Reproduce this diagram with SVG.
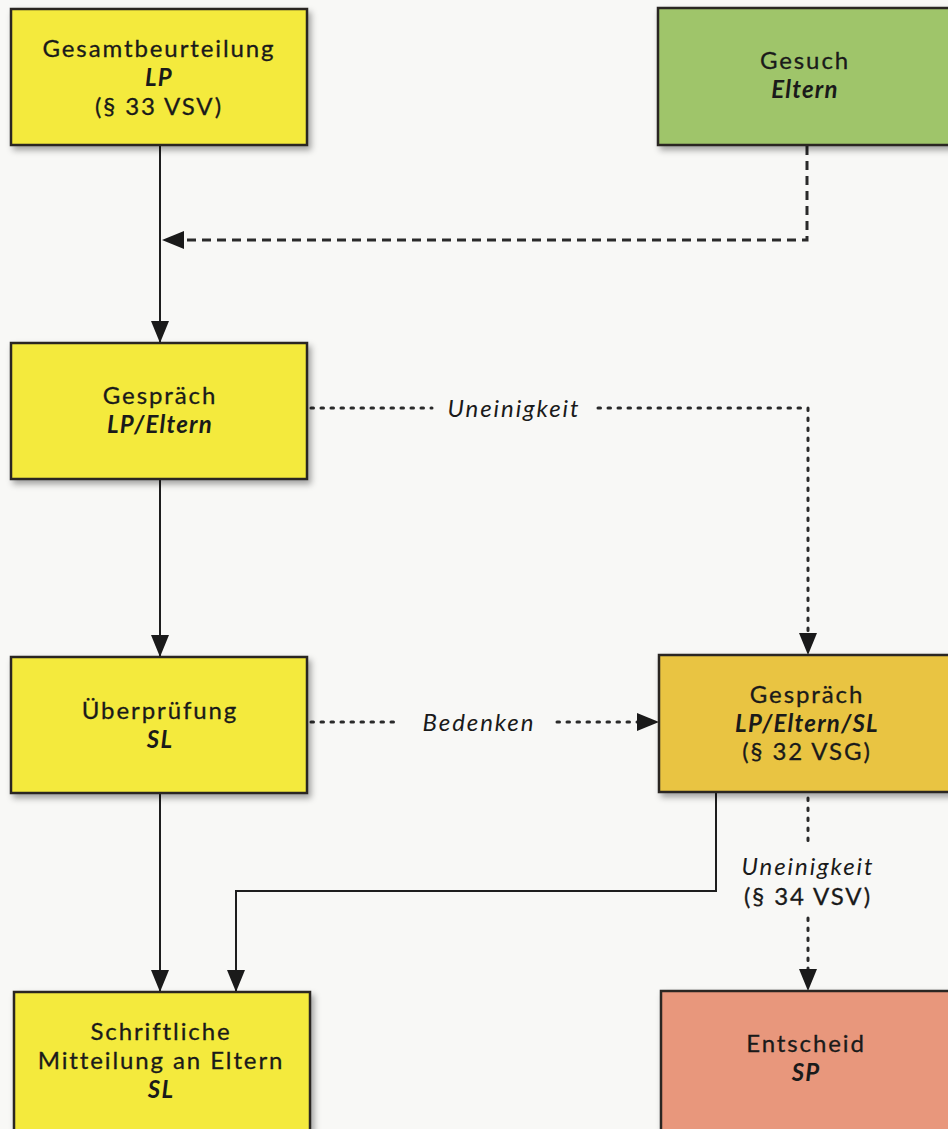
<svg xmlns="http://www.w3.org/2000/svg" width="948" height="1129" viewBox="0 0 948 1129">
<defs>
<filter id="sh" x="-10%" y="-10%" width="130%" height="130%">
<feDropShadow dx="3" dy="4" stdDeviation="3" flood-color="#000" flood-opacity="0.35"/>
</filter>
<marker id="ah" markerWidth="22" markerHeight="18" refX="22" refY="9" orient="auto" markerUnits="userSpaceOnUse">
<path d="M0,0 L22,9 L0,18 Z" fill="#1a1a1a"/>
</marker>
</defs>
<style>
.box{stroke:#2a2522;stroke-width:2.5;filter:url(#sh)}
.y{fill:#f4ea3c}
.g{fill:#9fc56b}
.o{fill:#e9c443}
.r{fill:#e8977c}
text{font-family:Lato,"Open Sans","Noto Sans",sans-serif;font-size:24px;letter-spacing:1.9px;fill:#1a1a1a;stroke:#1a1a1a;stroke-width:0.3px;text-anchor:middle}
.b{font-weight:bold;font-style:italic;letter-spacing:1.2px;stroke-width:0}
.i{font-style:italic;stroke-width:0}
.solid{fill:none;stroke:#1e1e1e;stroke-width:2}
.dash{fill:none;stroke:#2a2a2a;stroke-width:3;stroke-dasharray:9 6}
.dot{fill:none;stroke:#2a2a2a;stroke-width:3;stroke-dasharray:2.5 7.5;stroke-linecap:round}
</style>
<rect width="948" height="1129" fill="#f8f8f6"/>
<g id="connectors">
<path class="solid" d="M160,146 V343" marker-end="url(#ah)"/>
<path class="dash" d="M807,146 V240 H175"/>
<path d="M162,240 L184,231 L184,249 Z" fill="#1a1a1a"/>
<path class="dot" d="M311,408 H432 M598,408 H808 V634"/>
<path d="M799,633 L808,655 L817,633 Z" fill="#1a1a1a"/>
<path class="solid" d="M160,480 V657" marker-end="url(#ah)"/>
<path class="dot" d="M311,722 H400 M557,722 H638"/>
<path d="M637,713 L659,722 L637,731 Z" fill="#1a1a1a"/>
<path class="solid" d="M160,794 V992" marker-end="url(#ah)"/>
<path class="solid" d="M716,793 V891 H236 V992" marker-end="url(#ah)"/>
<path class="dot" d="M808,798 V842 M808,918 V970"/>
<path d="M799,969 L808,991 L817,969 Z" fill="#1a1a1a"/>
<text class="i" x="514" y="417">Uneinigkeit</text>
<text class="i" x="479" y="731">Bedenken</text>
<text class="i" x="808" y="875">Uneinigkeit</text>
<text x="808" y="905">(§ 34 VSV)</text>
</g>
<g id="n1">
<rect class="box y" x="11" y="9" width="296" height="136"/>
<text x="159" y="57">Gesamtbeurteilung</text>
<text class="b" x="159" y="86">LP</text>
<text x="159" y="115">(§ 33 VSV)</text>
</g>
<g id="n2">
<rect class="box g" x="658" y="8" width="300" height="137"/>
<text x="805" y="69">Gesuch</text>
<text class="b" x="805" y="98">Eltern</text>
</g>
<g id="n3">
<rect class="box y" x="11" y="343" width="296" height="136"/>
<text x="160" y="404">Gespräch</text>
<text class="b" x="160" y="433">LP/Eltern</text>
</g>
<g id="n4">
<rect class="box y" x="11" y="657" width="296" height="136"/>
<text x="160" y="719">Überprüfung</text>
<text class="b" x="160" y="748">SL</text>
</g>
<g id="n5">
<rect class="box o" x="659" y="655" width="300" height="137"/>
<text x="807" y="703">Gespräch</text>
<text class="b" x="807" y="732">LP/Eltern/SL</text>
<text x="807" y="760">(§ 32 VSG)</text>
</g>
<g id="n6">
<rect class="box y" x="14" y="992" width="296" height="150"/>
<text x="161" y="1040">Schriftliche</text>
<text x="161" y="1069">Mitteilung an Eltern</text>
<text class="b" x="161" y="1098">SL</text>
</g>
<g id="n7">
<rect class="box r" x="661" y="991" width="300" height="150"/>
<text x="806" y="1052">Entscheid</text>
<text class="b" x="806" y="1081">SP</text>
</g>
</svg>
